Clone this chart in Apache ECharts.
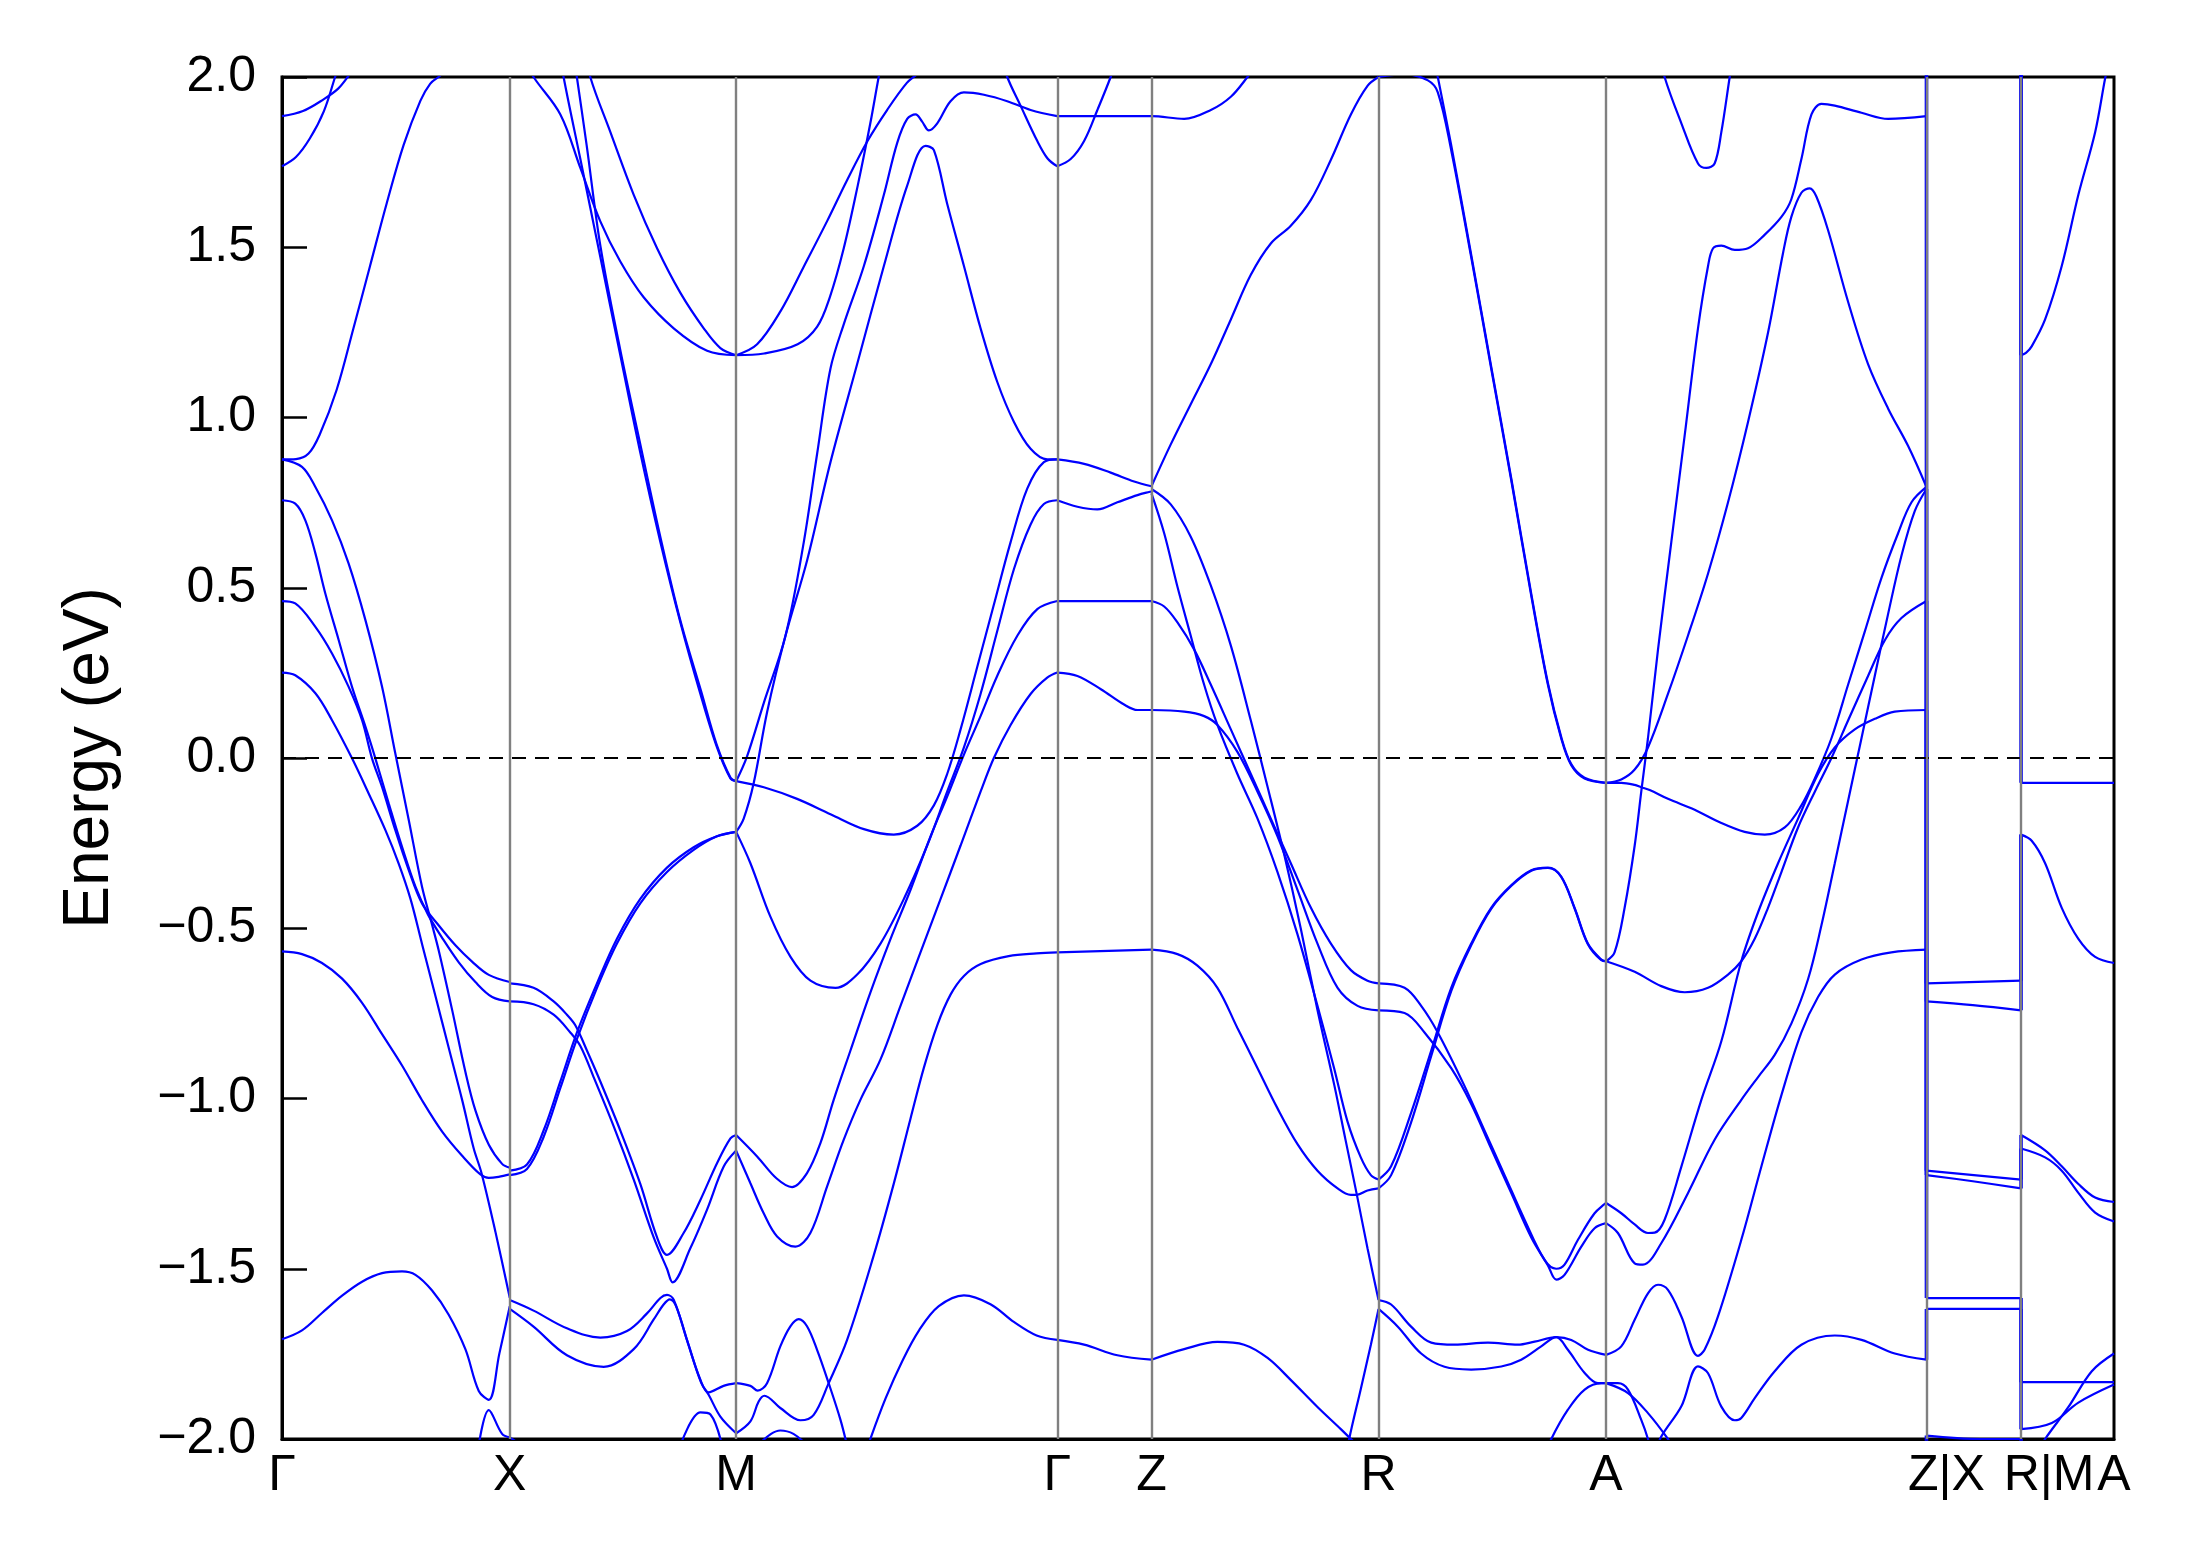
<!DOCTYPE html>
<html>
<head>
<meta charset="utf-8">
<script src="https://cdn.jsdelivr.net/npm/echarts@6/dist/echarts.min.js"></script>
<style>
  html, body { margin: 0; padding: 0; background: #ffffff; }
  #chart { width: 2189px; height: 1567px; }
</style>
</head>
<body>
<div id="chart"></div>
<script>
// High-symmetry k-path positions and labels
const KPOS = [0, 163, 325, 554.8, 622.2, 784.7, 947.5, 1176.8, 1244.5, 1311];
const KLABELS = ['Γ', 'X', 'M', 'Γ', 'Z', 'R', 'A', 'Z|X', 'R|M', 'A'];
const E_MIN = -2.0, E_MAX = 2.0, E_STEP = 0.5;
const E_FERMI = 0.0;

// Bands, segment by segment: each curve is a list of [k, E (eV)]
const BANDS_GX = [
  [[0,1.885],[15,1.9],[30,1.935],[40,1.965],[47,2.0],[52,2.03]],
  [[0,1.738],[10,1.765],[20,1.82],[30,1.9],[38,2.0],[42,2.05]],
  [[0,0.877],[10,0.878],[19,0.894],[27,0.95],[39,1.08],[51,1.26],[63,1.445],[75,1.63],[87,1.8],[99,1.93],[106,1.98],[112,2.0],[118,2.02]],
  [[0,0.877],[14.3,0.855],[23.9,0.796],[35.8,0.698],[47.7,0.571],[59.7,0.405],[71.6,0.209],[81.1,0.013],[90.7,-0.182],[100.2,-0.378],[107.4,-0.49],[112.2,-0.566],[121.7,-0.739],[131.3,-0.923],[138.4,-1.035],[148,-1.136],[157.5,-1.192],[163,-1.203]],
  [[0,0.757],[9.5,0.747],[16.7,0.698],[23.9,0.601],[31,0.483],[40.6,0.346],[50.1,0.209],[59.7,0.092],[66.8,-0.001],[76.4,-0.134],[85.9,-0.261],[95.5,-0.378],[104.5,-0.46],[114.6,-0.528],[126.5,-0.6],[138.4,-0.658],[150.4,-0.702],[163,-0.715]],
  [[0,0.461],[9.5,0.454],[23.9,0.385],[35.8,0.307],[47.7,0.209],[57.3,0.111],[64.4,-0.001],[71.6,-0.085],[81.1,-0.212],[90.7,-0.329],[100.2,-0.427],[112.2,-0.492],[124.1,-0.55],[136,-0.598],[148,-0.637],[163,-0.658]],
  [[0,0.251],[9.5,0.243],[23.9,0.19],[35.8,0.111],[50.1,-0.001],[62,-0.104],[74,-0.212],[83.5,-0.31],[91.9,-0.413],[100.2,-0.546],[109.8,-0.699],[119.3,-0.851],[128.9,-1.004],[137.2,-1.147],[142.7,-1.218],[152.7,-1.391],[163,-1.585]],
  [[0,-0.568],[14.3,-0.576],[28.6,-0.602],[43,-0.648],[57.3,-0.719],[71.6,-0.811],[85.9,-0.903],[100.2,-1.005],[114.6,-1.097],[128.9,-1.168],[142,-1.223],[148,-1.233],[155,-1.23],[163,-1.223]],
  [[0,-1.707],[14.3,-1.681],[28.6,-1.63],[43,-1.579],[57.3,-1.538],[71.6,-1.513],[85.9,-1.508],[95.5,-1.518],[107.4,-1.564],[119.3,-1.635],[131.3,-1.737],[140.8,-1.859],[148,-1.885],[155.5,-1.75],[163,-1.61]],
  [[140,-2.04],[148,-1.915],[157.5,-1.985],[163,-1.995]]
];

const BANDS_XM = [
  [[172,2.06],[180,2.0],[199.2,1.89],[213.5,1.733],[227.8,1.576],[242.1,1.458],[258.8,1.353],[280.3,1.262],[304.2,1.196],[325,1.183]],
  [[216,2.1],[220.6,2.0],[235,1.838],[251.7,1.654],[268.4,1.497],[285.1,1.366],[301.8,1.262],[313.7,1.204],[325,1.183]],
  [[199,2.07],[201.5,2.0],[213.5,1.759],[227.8,1.471],[242.1,1.183],[256.5,0.895],[270.8,0.634],[285.1,0.398],[299.4,0.188],[311.3,0.031],[320.9,-0.06],[325,-0.068]],
  [[208,2.08],[211,2.0],[218,1.8],[228,1.5],[242,1.2],[257,0.91],[271,0.645],[285,0.405],[300,0.195],[311,0.04],[321,-0.058],[325,-0.068]],
  [[163,-0.662],[180,-0.675],[194.4,-0.715],[203.9,-0.754],[209.9,-0.785],[218.2,-0.859],[227.8,-0.95],[242.1,-1.094],[256.4,-1.251],[268.4,-1.408],[275.5,-1.459],[287.4,-1.395],[299.4,-1.298],[311.3,-1.19],[320.9,-1.117],[325,-1.107]],
  [[163,-0.715],[180,-0.723],[194.4,-0.754],[206.3,-0.806],[213.5,-0.846],[223,-0.937],[237.3,-1.081],[251.7,-1.238],[266,-1.408],[275.5,-1.5],[279.5,-1.54],[292.2,-1.44],[304.1,-1.327],[316.1,-1.2],[325,-1.153]],
  [[163,-1.212],[175.3,-1.194],[187.2,-1.094],[199.2,-0.95],[211.1,-0.806],[225.4,-0.662],[239.7,-0.531],[256.4,-0.414],[275.5,-0.322],[294.6,-0.262],[311.3,-0.23],[325,-0.217]],
  [[163,-1.225],[175.3,-1.207],[187.2,-1.113],[199.2,-0.969],[211.1,-0.825],[225.4,-0.675],[239.7,-0.545],[256.4,-0.427],[275.5,-0.335],[294.6,-0.27],[311.3,-0.23],[325,-0.217]],
  [[163,-1.592],[180,-1.623],[203.9,-1.675],[227.8,-1.702],[246.9,-1.683],[261.2,-1.631],[270.8,-1.586],[275.5,-1.577],[280.3,-1.591],[289.8,-1.709],[299.4,-1.826],[305.3,-1.863],[316,-1.844],[325,-1.836]],
  [[163,-1.618],[180,-1.67],[203.9,-1.754],[230.2,-1.788],[251.7,-1.736],[266,-1.649],[273.1,-1.605],[277.5,-1.59],[282,-1.61],[291,-1.725],[300,-1.835],[305.3,-1.87],[313.7,-1.934],[325,-1.983]],
  [[163,-1.995],[172,-2.02]],
  [[285,-2.02],[299.4,-1.922],[306.6,-1.928],[315,-2.02]]
];

const BANDS_MG = [
  [[325,1.183],[340,1.215],[357,1.314],[373,1.44],[390,1.576],[404,1.694],[419,1.812],[433,1.903],[447,1.982],[455,2.01],[462,2.04]],
  [[325,1.183],[345,1.188],[369,1.215],[383,1.267],[392,1.353],[402,1.497],[412,1.681],[421,1.864],[427,2.0],[430,2.06]],
  [[325,-0.068],[332.8,0.005],[344.8,0.162],[360.3,0.359],[373.4,0.634],[383,0.895],[392.5,1.144],[402.1,1.275],[416.4,1.445],[430.7,1.654],[440.2,1.806],[447.4,1.877],[453.4,1.89],[458.1,1.869],[462.9,1.843],[468.9,1.864],[478.4,1.929],[488,1.955],[502.3,1.948],[519,1.929],[535.7,1.903],[554.8,1.885]],
  [[325,-0.217],[330.4,-0.178],[337.6,-0.073],[347.2,0.136],[360.3,0.359],[375.8,0.581],[392.5,0.869],[411.6,1.157],[430.7,1.445],[447.4,1.681],[460.5,1.798],[466.5,1.785],[476,1.628],[488,1.445],[499.9,1.262],[511.8,1.105],[523.8,0.987],[535.7,0.908],[547.6,0.877],[554.8,0.877]],
  [[325,-0.068],[344.8,-0.086],[368.6,-0.12],[392.5,-0.165],[416.4,-0.209],[437.8,-0.225],[454.6,-0.199],[466.5,-0.139],[476,-0.047],[485.6,0.084],[497.5,0.267],[509.4,0.45],[521.4,0.634],[533.3,0.791],[545.2,0.869],[554.8,0.877]],
  [[325,-0.217],[335.2,-0.309],[349.5,-0.466],[363.9,-0.584],[378.2,-0.654],[396.1,-0.675],[411.6,-0.636],[428.3,-0.545],[445,-0.414],[461.7,-0.257],[476,-0.099],[488,0.031],[499.9,0.188],[511.8,0.372],[523.8,0.555],[535.7,0.686],[545.2,0.746],[554.8,0.757]],
  [[325,-1.107],[340,-1.17],[354,-1.235],[365,-1.26],[375.7,-1.219],[385.3,-1.131],[394.8,-1.004],[406.8,-0.859],[421.1,-0.688],[435.5,-0.531],[449.8,-0.387],[464.1,-0.23],[476,-0.113],[488,0.01],[499.9,0.123],[511.8,0.241],[526.2,0.359],[540.5,0.437],[554.8,0.461]],
  [[325,-1.153],[335.2,-1.249],[344.7,-1.337],[354.3,-1.405],[367.4,-1.435],[378.1,-1.395],[390.1,-1.258],[402,-1.121],[413.9,-1.004],[428.3,-0.885],[442.6,-0.728],[456.9,-0.571],[471.3,-0.414],[485.6,-0.257],[499.9,-0.099],[509.4,0.0],[521.4,0.097],[535.7,0.188],[547.6,0.236],[554.8,0.251]],
  [[325,-1.836],[335.2,-1.844],[340.4,-1.858],[347.1,-1.836],[356.6,-1.728],[363.8,-1.669],[369.8,-1.648],[375.7,-1.669],[382.9,-1.738],[391.2,-1.836],[399.6,-1.943],[404.4,-2.02]],
  [[325,-1.983],[335.2,-1.948],[341.1,-1.89],[345.2,-1.873],[356.6,-1.909],[371,-1.945],[380.5,-1.929],[391.2,-1.836],[404.4,-1.709],[423.5,-1.46],[437.8,-1.25],[449.7,-1.06],[459.3,-0.91],[468.9,-0.785],[478.4,-0.695],[488,-0.64],[500,-0.605],[520,-0.582],[540,-0.574],[554.8,-0.571]],
  [[418,-2.04],[421,-2.0],[432,-1.88],[444,-1.77],[456,-1.68],[470,-1.61],[488,-1.578],[507,-1.604],[524,-1.657],[540,-1.696],[554.8,-1.709]],
  [[340,-2.02],[350,-1.985],[356.6,-1.975],[366,-1.985],[376,-2.02]],
  [[515,2.06],[519,2.0],[528.5,1.916],[540.5,1.812],[548,1.76],[554.8,1.738]]
];

const BANDS_GZ = [
  [[554.8,1.885],[622.2,1.885],[645.6,1.877],[664.7,1.903],[679,1.942],[690.9,2.0],[696,2.03]],
  [[554.8,1.738],[564.4,1.759],[574,1.812],[583.5,1.903],[593,2.0],[597,2.05]],
  [[554.8,0.877],[574,0.864],[593,0.838],[609.8,0.812],[622.2,0.798]],
  [[554.8,0.757],[569.2,0.738],[583.5,0.73],[597.8,0.751],[612.2,0.772],[622.2,0.783]],
  [[554.8,0.461],[622.2,0.461]],
  [[554.8,0.251],[569.2,0.241],[586,0.202],[602.6,0.157],[612.2,0.141],[622.2,0.141]],
  [[554.8,-0.571],[622.2,-0.563]],
  [[554.8,-1.709],[574,-1.723],[597.8,-1.754],[622.2,-1.767]]
];

const BANDS_ZR = [
  [[622.2,0.798],[636,0.921],[650.3,1.039],[664.7,1.157],[679,1.288],[693.3,1.419],[707.6,1.511],[721.9,1.563],[736.3,1.639],[750.6,1.757],[764.9,1.89],[776.8,1.974],[784.7,2.0]],
  [[622.2,0.79],[636,0.745],[650.3,0.65],[664.7,0.506],[679,0.33],[693.3,0.11],[705,-0.08],[717,-0.28],[729,-0.5],[741,-0.74],[753,-0.96],[761,-1.12],[769.2,-1.283],[776.8,-1.44],[784.7,-1.592]],
  [[622.2,0.777],[631.3,0.66],[640.8,0.503],[650.3,0.359],[659.9,0.215],[669.4,0.097],[683.7,-0.047],[698.1,-0.178],[712.4,-0.335],[726.7,-0.518],[741,-0.728],[752.9,-0.911],[762.5,-1.068],[772,-1.173],[779.2,-1.225],[784.7,-1.238]],
  [[622.2,0.461],[631.3,0.445],[640.8,0.398],[652.7,0.319],[664.7,0.215],[679,0.084],[693.3,-0.047],[707.6,-0.178],[721.9,-0.309],[736.3,-0.44],[750.6,-0.545],[764.9,-0.623],[776.8,-0.654],[784.7,-0.662]],
  [[622.2,0.141],[645.6,0.136],[659.9,0.123],[669.4,0.097],[683.7,0.018],[698.1,-0.099],[712.4,-0.23],[726.7,-0.387],[741,-0.545],[755.4,-0.675],[769.7,-0.728],[784.7,-0.741]],
  [[622.2,-0.563],[640.8,-0.576],[655.1,-0.61],[669.4,-0.675],[683.7,-0.793],[698.1,-0.911],[712.4,-1.029],[726.7,-1.134],[741,-1.212],[755.4,-1.264],[764.9,-1.283],[769.2,-1.283],[776.8,-1.27],[784.7,-1.264]],
  [[622.2,-1.767],[645.6,-1.736],[669.4,-1.715],[688.5,-1.723],[705.3,-1.762],[722,-1.827],[741,-1.906],[757.7,-1.971],[764.9,-2.0],[770,-2.02]],
  [[762,-2.05],[763.7,-2.0],[772,-1.853],[779.2,-1.723],[784.7,-1.618]]
];

const BANDS_RA = [
  [[784.7,2.0],[803.3,2.008],[820,1.99],[827.1,1.955],[836.7,1.785],[851,1.471],[865.3,1.144],[879.6,0.817],[894,0.476],[905.9,0.215],[915.4,0.058],[922.6,-0.021],[932.1,-0.06],[947.5,-0.073]],
  [[825,2.05],[827.1,2.0],[836.7,1.8],[851,1.478],[865.3,1.15],[879.6,0.823],[894,0.482],[905.9,0.22],[915.4,0.062],[922.6,-0.018],[932.1,-0.058],[947.5,-0.073]],
  [[784.7,-0.662],[803.3,-0.675],[815.2,-0.728],[827.1,-0.806],[846.2,-0.963],[860.5,-1.094],[874.9,-1.225],[889.2,-1.356],[903.5,-1.474],[911.9,-1.5],[917.8,-1.488],[927.4,-1.415],[939.3,-1.337],[947.5,-1.307]],
  [[784.7,-0.741],[803.3,-0.749],[817.6,-0.806],[836.7,-0.911],[851,-1.016],[865.3,-1.147],[879.6,-1.277],[894,-1.408],[905.9,-1.49],[911.9,-1.532],[917.8,-1.518],[929.8,-1.435],[939.3,-1.381],[947.5,-1.366]],
  [[784.7,-1.238],[793.7,-1.199],[808,-1.042],[822.4,-0.859],[836.7,-0.675],[851,-0.545],[865.3,-0.44],[879.6,-0.374],[894,-0.33],[905.9,-0.322],[915.4,-0.348],[925,-0.44],[934.5,-0.545],[944.1,-0.592],[947.5,-0.597]],
  [[784.7,-1.264],[793.7,-1.225],[808,-1.07],[822.4,-0.875],[836.7,-0.685],[851,-0.55],[865.3,-0.443],[879.6,-0.376],[894,-0.331],[905.9,-0.323],[915.4,-0.349],[925,-0.442],[934.5,-0.547],[944.1,-0.594],[947.5,-0.597]],
  [[784.7,-1.592],[793.7,-1.605],[808,-1.67],[822.4,-1.717],[839.1,-1.723],[863,-1.717],[884.4,-1.723],[896.4,-1.714],[911.9,-1.701],[922.6,-1.709],[934.6,-1.738],[947.5,-1.753]],
  [[784.7,-1.618],[798.5,-1.67],[815.2,-1.749],[831.9,-1.788],[851,-1.796],[872.5,-1.787],[886.8,-1.767],[901.1,-1.728],[911.9,-1.701],[920.2,-1.738],[932.2,-1.806],[941.7,-1.836],[947.5,-1.836]],
  [[905,-2.04],[908.3,-2.0],[920.2,-1.914],[932.2,-1.855],[944.1,-1.836],[947.5,-1.836]]
];

const BANDS_AZ = [
  [[947.5,-0.597],[953.6,-0.571],[960.8,-0.44],[968,-0.257],[972.7,-0.099],[977.5,0.058],[984.7,0.319],[994.2,0.634],[1003.8,0.948],[1013.3,1.262],[1020.5,1.445],[1024.1,1.497],[1030,1.505],[1039.6,1.492],[1049.1,1.497],[1061.1,1.537],[1073,1.589],[1080.1,1.641],[1087.3,1.759],[1094.5,1.89],[1101.6,1.921],[1111.2,1.916],[1130.3,1.895],[1149.4,1.877],[1176.8,1.885]],
  [[947.5,-0.073],[958.4,-0.063],[968,-0.034],[977.5,0.031],[991.8,0.188],[1006.1,0.359],[1020.5,0.542],[1034.8,0.751],[1049.1,0.987],[1063.4,1.249],[1074.2,1.484],[1080.1,1.589],[1087.3,1.66],[1093.3,1.673],[1098,1.649],[1106.4,1.55],[1120.7,1.34],[1135,1.157],[1149.4,1.026],[1163.7,0.916],[1176.8,0.796]],
  [[947.5,-0.073],[958.4,-0.073],[968,-0.079],[972.7,-0.086],[978.7,-0.094],[991.8,-0.12],[1010.9,-0.152],[1030,-0.191],[1046.7,-0.217],[1061.1,-0.225],[1075.4,-0.204],[1087.3,-0.139],[1096.9,-0.06],[1108.8,0.058],[1120.7,0.215],[1132.7,0.372],[1144.6,0.529],[1156.5,0.66],[1166.1,0.751],[1176.8,0.796]],
  [[947.5,-0.597],[968,-0.628],[987,-0.67],[1003.8,-0.688],[1020.5,-0.675],[1034.8,-0.636],[1044.3,-0.597],[1053.9,-0.531],[1063.4,-0.44],[1073,-0.335],[1084.9,-0.204],[1096.9,-0.099],[1108.8,0.0],[1120.7,0.11],[1135,0.241],[1147,0.346],[1158.9,0.411],[1176.8,0.461]],
  [[947.5,-1.307],[958.4,-1.337],[968,-1.37],[977.5,-1.395],[982.3,-1.394],[989.4,-1.356],[1001.4,-1.2],[1015.7,-1.004],[1030,-0.832],[1044.3,-0.597],[1056.3,-0.453],[1070.6,-0.309],[1084.9,-0.178],[1099.2,-0.047],[1111.2,0.031],[1125.5,0.084],[1139.8,0.115],[1154.1,0.136],[1176.8,0.141]],
  [[947.5,-1.366],[956,-1.395],[968,-1.484],[973.9,-1.488],[987,-1.425],[1006.1,-1.278],[1025.2,-1.121],[1044.3,-1.004],[1056.3,-0.937],[1068.2,-0.872],[1080.1,-0.78],[1092.1,-0.649],[1101.6,-0.492],[1111.2,-0.309],[1120.7,-0.126],[1130.3,0.058],[1139.8,0.241],[1149.4,0.424],[1158.9,0.594],[1168.4,0.725],[1176.8,0.79]],
  [[947.5,-1.753],[958.4,-1.728],[968,-1.65],[977.5,-1.572],[984.7,-1.547],[991.8,-1.562],[1001.4,-1.64],[1013.3,-1.756],[1018,-1.738],[1027.6,-1.64],[1044.3,-1.415],[1058.7,-1.199],[1073,-0.99],[1087.3,-0.806],[1099.2,-0.702],[1111.2,-0.636],[1130.3,-0.592],[1151.7,-0.571],[1176.8,-0.563]],
  [[984,-2.03],[987,-1.993],[1001.4,-1.904],[1013.3,-1.787],[1020.5,-1.807],[1030,-1.905],[1039.6,-1.945],[1044.3,-1.938],[1053.9,-1.88],[1068.2,-1.801],[1087.3,-1.723],[1111.2,-1.696],[1130.3,-1.709],[1154.1,-1.749],[1176.8,-1.767]],
  [[947.5,-1.836],[956,-1.836],[963.2,-1.855],[972.7,-1.944],[977.5,-2.0],[979,-2.03]],
  [[947.5,-1.836],[963.2,-1.865],[977.5,-1.924],[991.8,-2.0],[994,-2.02]],
  [[987,2.06],[989.4,2.0],[1001.4,1.864],[1013.3,1.746],[1019.3,1.733],[1025.2,1.746],[1030,1.838],[1036,2.0],[1038,2.05]]
];

const BANDS_XR = [
  [[1176.8,-0.662],[1244.5,-0.654]],
  [[1176.8,-0.715],[1210,-0.726],[1244.5,-0.741]],
  [[1176.8,-1.212],[1244.5,-1.238]],
  [[1176.8,-1.225],[1210,-1.243],[1244.5,-1.264]],
  [[1176.8,-1.586],[1244.5,-1.586]],
  [[1176.8,-1.618],[1244.5,-1.618]],
  [[1176.8,-1.99],[1215,-2.0],[1244.5,-2.0]]
];

const BANDS_MA = [
  [[1244.5,1.183],[1248,1.19],[1252.1,1.209],[1261.7,1.288],[1273.6,1.445],[1285.5,1.654],[1297.5,1.838],[1304.6,1.995],[1307,2.04]],
  [[1244.5,-0.073],[1311,-0.073]],
  [[1244.5,-0.225],[1252.1,-0.243],[1261.7,-0.309],[1273.6,-0.44],[1285.5,-0.531],[1297.5,-0.584],[1311,-0.602]],
  [[1244.5,-1.107],[1261.7,-1.152],[1273.6,-1.199],[1285.5,-1.251],[1297.5,-1.291],[1311,-1.304]],
  [[1244.5,-1.147],[1261.7,-1.173],[1273.6,-1.212],[1285.5,-1.277],[1297.5,-1.335],[1311,-1.361]],
  [[1244.5,-1.833],[1311,-1.833]],
  [[1244.5,-1.971],[1266.5,-1.953],[1285.5,-1.893],[1311,-1.84]],
  [[1258,-2.03],[1261.7,-2.0],[1278.4,-1.906],[1295.1,-1.801],[1311,-1.749]]
];

// Band discontinuities at the path breaks: [E at left end, E at right start]
const JUMPS_ZX = [[2.1,0.796],[0.796,-0.662],[0.79,-0.715],[0.461,-1.212],[0.141,-1.225],[-0.563,-1.586],[-1.767,-1.618],[-2.1,-1.99]];
const JUMPS_RM = [[2.1,1.183],[2.1,-0.073],[-0.654,-0.225],[-0.741,-0.225],[-1.238,-1.107],[-1.264,-1.147],[-1.586,-1.833],[-1.618,-1.971],[-2.1,-2.0]];

// horizontal shift (px of left padding) for the combined break labels
const LABEL_PAD = { 'Z|X': 40, 'R|M': 56 };

const BLUE = '#0000ff';
const FONT = '"Liberation Sans", Arial, Helvetica, sans-serif';

const series = [];
// background: vertical k-point lines
series.push({
  type: 'line', data: [], z: 1, silent: true, animation: false,
  markLine: {
    silent: true, symbol: ['none', 'none'], animation: false,
    label: { show: false },
    lineStyle: { color: '#808080', width: 2.4, type: 'solid' },
    data: KPOS.slice(1, -1).map(v => ({ xAxis: v }))
  }
});
// Fermi level
series.push({
  type: 'line', data: [[KPOS[0], E_FERMI], [KPOS[KPOS.length - 1], E_FERMI]],
  showSymbol: false, symbol: 'none', z: 4, silent: true, animation: false,
  lineStyle: { color: '#000000', width: 2.2, type: [14, 9] }
});

const allSegments = [BANDS_GX, BANDS_XM, BANDS_MG, BANDS_GZ, BANDS_ZR, BANDS_RA, BANDS_AZ, BANDS_XR, BANDS_MA];
allSegments.forEach(seg => seg.forEach(curve => {
  series.push({
    type: 'line', data: curve, showSymbol: false, symbol: 'none',
    smooth: 0.35, z: 3, silent: true, animation: false,
    lineStyle: { color: BLUE, width: 2.2 }
  });
}));
[[KPOS[7], JUMPS_ZX], [KPOS[8], JUMPS_RM]].forEach(([k, jumps]) => jumps.forEach(([e1, e2]) => {
  series.push({
    type: 'line', data: [[k, e1], [k, e2]], showSymbol: false, symbol: 'none',
    z: 3, silent: true, animation: false,
    lineStyle: { color: BLUE, width: 3.6 }
  });
}));

const labelRich = {};
Object.keys(LABEL_PAD).forEach((lab, j) => {
  labelRich['p' + j] = { padding: [0, 0, 0, LABEL_PAD[lab]], fontSize: 50, fontFamily: FONT, color: '#000' };
});

const chart = echarts.init(document.getElementById('chart'), null, { renderer: 'canvas' });
chart.setOption({
  animation: false,
  backgroundColor: '#ffffff',
  grid: { left: 282, right: 75, top: 77, bottom: 128, show: true, borderColor: '#000000', borderWidth: 3, backgroundColor: 'transparent' },
  xAxis: {
    type: 'value', min: KPOS[0], max: KPOS[KPOS.length - 1],
    axisLine: { show: true, onZero: false, lineStyle: { color: '#000', width: 3 } },
    axisTick: { show: false },
    splitLine: { show: false },
    axisLabel: {
      customValues: KPOS,
      formatter: v => {
        const i = KPOS.findIndex(p => Math.abs(p - v) < 0.01);
        if (i < 0) return '';
        const lab = KLABELS[i];
        const j = Object.keys(LABEL_PAD).indexOf(lab);
        return j >= 0 ? '{p' + j + '|' + lab + '}' : lab;
      },
      rich: labelRich,
      color: '#000', fontSize: 50, fontFamily: FONT, margin: 12
    }
  },
  yAxis: {
    type: 'value', min: E_MIN, max: E_MAX, interval: E_STEP,
    name: 'Energy (eV)', nameLocation: 'middle', nameGap: 160,
    nameTextStyle: { color: '#000', fontSize: 64, fontFamily: FONT },
    axisLine: { show: true, onZero: false, lineStyle: { color: '#000', width: 3 } },
    axisTick: { show: true, inside: true, length: 25, lineStyle: { color: '#000', width: 2.5 } },
    splitLine: { show: false },
    axisLabel: {
      formatter: v => v.toFixed(1).replace('-', '\u2212'),
      color: '#000', fontSize: 50, fontFamily: FONT, margin: 26
    }
  },
  series: series
});
</script>
</body>
</html>
